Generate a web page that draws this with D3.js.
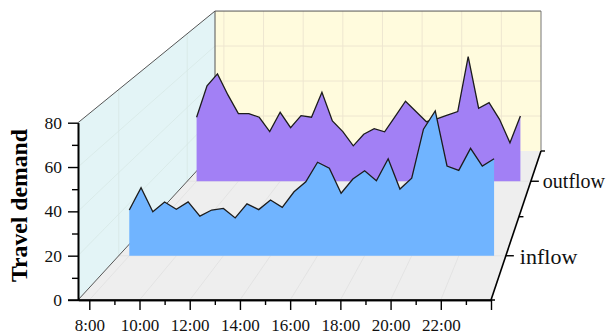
<!DOCTYPE html>
<html>
<head>
<meta charset="utf-8">
<script src="https://cdn.jsdelivr.net/npm/d3@7"></script>
<style>
  html, body { margin: 0; padding: 0; background: #fff; }
  svg { display: block; }
</style>
</head>
<body>
<div id="chart"></div>
<script>
// half hour steps
var hours = [8,8.5,9,9.5,10,10.5,11,11.5,12,12.5,13,13.5,14,14.5,15,15.5,16,16.5,17,17.5,18,18.5,19,19.5,20,20.5,21,21.5,22,22.5,23,23.5];
var inflow = [22.0,32.8,21.2,25.9,22.4,25.9,19.1,22.0,22.8,18.2,25.0,22.2,26.8,23.3,30.8,35.6,45.0,42.1,30.1,36.9,40.9,36.1,46.7,32.1,37.3,60.9,69.7,43.2,41.1,51.7,43.2,46.7];
var outflow = [34.7,51.7,58.2,46.8,36.7,36.7,34.7,26.9,37.4,29.1,35.6,34.7,48.3,32.7,26.9,19.2,25.5,28.5,26.8,35.1,43.4,37.8,32.3,33.8,35.8,37.8,67.6,39.6,42.6,33.6,20.9,35.4];
var xTicks = [8,10,12,14,16,18,20,22,24];
var xMinor = [9,11,13,15,17,19,21,23];
var xLabels = ["8:00","10:00","12:00","14:00","16:00","18:00","20:00","22:00",""];
var yTicks = [0,20,40,60,80];
var yMinor = [10,30,50,70];
var layers = ["inflow","outflow"];

var w = 606;
var h = 336;

var xScale = d3.scaleLinear().domain([7.55,24]).range([78,491]);
var yScale = d3.scaleLinear().domain([0,80]).range([300,122.7]);
// depth position of the layers, -0.6 is the front edge and 1.4 the back wall
var depth = d3.scaleLinear().domain([-0.6,0,0.5,1,1.4]).range([0,0.297,0.559,0.797,1]);

// front face to back wall, things get smaller going back
function project(hour, value, d) {
	var t = depth(d);
	var left = 78 + (215-78)*t;
	var right = 491 + (541-491)*t;
	var k = (right-left)/(491-78);
	var floorY = 300 - 149*t;
	return [left + (xScale(hour)-78)*k, floorY - (300-yScale(value))*k];
}

var xMin = xScale.domain()[0], xMax = xScale.domain()[1];
var front = -0.6, back = 1.4;

var svg = d3.select("#chart").append("svg")
	.attr("width", w)
	.attr("height", h);

function poly(pts, fill) {
	svg.append("polygon")
		.attr("points", pts.map(function(p){ return p.join(","); }).join(" "))
		.attr("fill", fill);
}
function seg(a, b, color, width) {
	svg.append("line")
		.attr("x1", a[0]).attr("y1", a[1])
		.attr("x2", b[0]).attr("y2", b[1])
		.attr("stroke", color)
		.attr("stroke-width", width);
}

//Walls and floor
poly([project(xMin,0,front),project(xMin,80,front),project(xMin,80,back),project(xMin,0,back)], "#e3f4f6");
poly([project(xMin,0,back),project(xMin,80,back),project(xMax,80,back),project(xMax,0,back)], "#fffbdd");
poly([project(xMin,0,front),project(xMax,0,front),project(xMax,0,back),project(xMin,0,back)], "#eeeeee");

//Grid
xTicks.slice(0,8).forEach(function(x){
	seg(project(x,0,back), project(x,80,back), "#eee6d0", 1);
	seg(project(x,0,front), project(x,0,back), "#dedede", 0.7);
});
[20,40,60].forEach(function(v){
	seg(project(xMin,v,back), project(xMax,v,back), "#eee6d0", 1);
	seg(project(xMin,v,front), project(xMin,v,back), "#d5e6e4", 0.7);
});
[0,1].forEach(function(d){
	seg(project(xMin,0,d), project(xMin,80,d), "#d5e6e4", 0.7);
	seg(project(xMin,0,d), project(xMax,0,d), "#e0e0e0", 0.7);
});

//Wall edges
seg(project(xMin,0,front), project(xMin,0,back), "#555", 1);
seg(project(xMin,80,front), project(xMin,80,back), "#555", 1);
seg(project(xMin,80,back), project(xMax,80,back), "#555", 1);
seg(project(xMin,0,back), project(xMin,80,back), "#555", 1);
seg(project(xMax,0,back), project(xMax,80,back), "#777", 1);

//Layers, back one first
function drawLayer(values, d, fill) {
	var rows = hours.map(function(hr,i){ return {hr:hr, v:values[i]}; });
	var area = d3.area()
		.x(function(r){ return project(r.hr,0,d)[0]; })
		.y0(function(r){ return project(r.hr,0,d)[1]; })
		.y1(function(r){ return project(r.hr,r.v,d)[1]; });
	var line = d3.line()
		.x(function(r){ return project(r.hr,r.v,d)[0]; })
		.y(function(r){ return project(r.hr,r.v,d)[1]; });
	svg.append("path").attr("d", area(rows)).attr("fill", fill);
	svg.append("path").attr("d", line(rows))
		.attr("fill", "none")
		.attr("stroke", "#1c1c1c")
		.attr("stroke-width", 1.3)
		.attr("stroke-linejoin", "miter");
}
drawLayer(outflow, 1, "#a280f5");
drawLayer(inflow, 0, "#70b4ff");

//Axes
function styleAxis(g, size) {
	g.selectAll("path.domain").attr("stroke", "#000").attr("stroke-width", 1.6);
	g.selectAll("line").attr("stroke", "#000").attr("stroke-width", 1.4);
	g.selectAll("text")
		.attr("font-family", "'Liberation Serif', serif")
		.attr("font-size", size)
		.attr("fill", "#111");
}

var yMinorAxis = svg.append("g").attr("transform","translate(78,0)")
	.call(d3.axisLeft(yScale).tickValues(yMinor).tickSize(6).tickSizeOuter(0).tickFormat(""));
styleAxis(yMinorAxis, 17);
var yAxis = svg.append("g").attr("transform","translate(78,0)")
	.call(d3.axisLeft(yScale).tickValues(yTicks).tickSize(10).tickSizeOuter(0).tickPadding(6));
styleAxis(yAxis, 17.5);

var xMinorAxis = svg.append("g").attr("transform","translate(0,300)")
	.call(d3.axisBottom(xScale).tickValues(xMinor).tickSize(5).tickSizeOuter(0).tickFormat(""));
styleAxis(xMinorAxis, 17);
var xAxis = svg.append("g").attr("transform","translate(0,300)")
	.call(d3.axisBottom(xScale).tickValues(xTicks).tickSize(10).tickSizeOuter(0).tickPadding(9)
		.tickFormat(function(d,i){ return xLabels[i]; }));
styleAxis(xAxis, 17);

//the axis line also runs out over the tick on the left
seg([68,300], [495,300], "#000", 1.4);

//Depth axis
seg(project(xMax,0,front), project(xMax,0,back), "#000", 1.6);
var depthTicks = [{d:-0.6,len:0},{d:0,len:8},{d:0.5,len:4.5},{d:1,len:8},{d:1.4,len:4}];
depthTicks.forEach(function(t){
	var p = project(xMax,0,t.d);
	seg(p, [p[0]+t.len,p[1]], "#000", 1.4);
});
var depthLabelSize = [22,20];
layers.forEach(function(name,i){
	var p = project(xMax,0,i);
	svg.append("text")
		.attr("x", p[0]+(i==0 ? 14 : 12))
		.attr("y", p[1]+(i==0 ? 8 : 7))
		.attr("font-family", "'Liberation Serif', serif")
		.attr("font-size", depthLabelSize[i])
		.attr("fill", "#111")
		.text(name);
});

//Y title
svg.append("text")
	.attr("transform", "translate(26.5,205.5) rotate(-90)")
	.attr("text-anchor", "middle")
	.attr("font-family", "'Liberation Serif', serif")
	.attr("font-weight", "bold")
	.attr("font-size", 23.7)
	.attr("fill", "#000")
	.text("Travel demand");
</script>
</body>
</html>
